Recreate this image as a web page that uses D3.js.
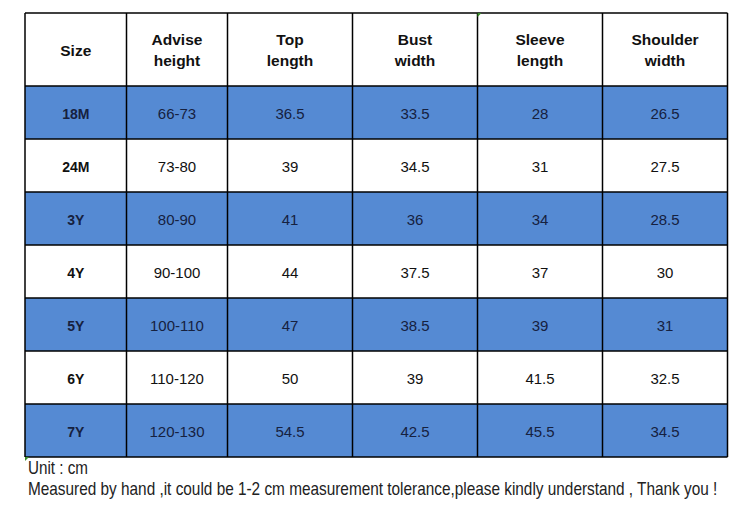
<!DOCTYPE html>
<html><head><meta charset="utf-8">
<script src="https://cdn.jsdelivr.net/npm/d3@7"></script>
<style>html,body{margin:0;padding:0;background:#fff;}svg{display:block;}</style>
</head><body>
<svg id="c" width="750" height="507"></svg>
<script>
const headers = [["Size"],["Advise","height"],["Top","length"],["Bust","width"],["Sleeve","length"],["Shoulder","width"]];
const sizes = ["18M","24M","3Y","4Y","5Y","6Y","7Y"];
const adviseHeight = ["66-73","73-80","80-90","90-100","100-110","110-120","120-130"];
const topLength = [36.5,39,41,44,47,50,54.5];
const bustWidth = [33.5,34.5,36,37.5,38.5,39,42.5];
const sleeveLength = [28,31,34,37,39,41.5,45.5];
const shoulderWidth = [26.5,27.5,28.5,30,31,32.5,34.5];
const notes = ["Unit : cm","Measured by hand ,it could be 1-2 cm measurement tolerance,please kindly understand , Thank you !"];

const svg = d3.select("#c");
const colEdges = [25,126.5,227.5,352.5,477.5,602.5,727.5];
const tableTop = 13, headH = 73, rowH = 53;
const rowY = d3.scaleBand().domain(d3.range(sizes.length)).range([tableTop+headH, tableTop+headH+rowH*sizes.length]);
const cols = [sizes, adviseHeight, topLength, bustWidth, sleeveLength, shoulderWidth];
const FONT = "Arial, 'Liberation Sans', sans-serif";

// row backgrounds
svg.selectAll("rect.row").data(sizes).join("rect")
  .attr("x", colEdges[0]).attr("y",(d,i)=>rowY(i))
  .attr("width", colEdges[6]-colEdges[0]).attr("height", rowY.bandwidth())
  .attr("fill",(d,i)=> i%2===0 ? "#558ad3" : "#ffffff");

// header text
headers.forEach((h,ci)=>{
  const cx=(colEdges[ci]+colEdges[ci+1])/2;
  const t=svg.append("text").attr("x",cx).attr("text-anchor","middle")
    .attr("font-family",FONT).attr("font-weight","bold")
    .attr("font-size",15.5).attr("fill","#111");
  if(h.length===1){ t.attr("y",tableTop+headH/2+6).text(h[0]); }
  else { h.forEach((s,k)=>t.append("tspan").attr("x",cx).attr("y",tableTop+32+k*20.5).text(s)); }
});

// cells
cols.forEach((col,ci)=>{
  const cx=(colEdges[ci]+colEdges[ci+1])/2;
  svg.selectAll("text.c"+ci).data(col).join("text").attr("class","c"+ci)
    .attr("x",cx).attr("y",(d,i)=>rowY(i)+rowY.bandwidth()/2+6.5)
    .attr("text-anchor","middle")
    .attr("font-family",FONT)
    .attr("font-weight", ci===0?"bold":"normal")
    .attr("font-size", ci===0?14:15)
    .attr("fill",(d,i)=> i%2===0 ? "#16213f" : "#111")
    .text(d=>d);
});

// grid lines
const tableBottom = tableTop+headH+rowH*sizes.length;
const hLines=[tableTop, tableTop+headH, ...d3.range(1,sizes.length+1).map(i=>tableTop+headH+rowH*i)];
svg.selectAll("line.h").data(hLines).join("line").attr("class","h")
  .attr("x1",colEdges[0]).attr("x2",colEdges[6]).attr("y1",d=>d).attr("y2",d=>d)
  .attr("stroke","#000").attr("stroke-width",1.5);
svg.selectAll("line.v").data(colEdges).join("line").attr("class","v")
  .attr("x1",d=>d).attr("x2",d=>d).attr("y1",tableTop).attr("y2",tableBottom)
  .attr("stroke","#000").attr("stroke-width",1.5);

// small green corner marks
svg.append("path").attr("d",`M${colEdges[4]},${tableTop} l4,0 l-4,4 z`).attr("fill","#3a8a2a");
svg.append("path").attr("d",`M${colEdges[0]},${tableBottom} l4,0 l-4,4 z`).attr("fill","#3a8a2a");

// notes (horizontally condensed to match the reference widths)
[[notes[0],474,60],[notes[1],495,690]].forEach(([txt,y,w])=>{
  const t = svg.append("text").attr("x",0).attr("y",0).attr("font-family",FONT)
    .attr("font-size",17.5).attr("fill","#222").text(txt);
  const nat = t.node().getComputedTextLength();
  t.attr("transform",`translate(28,${y}) scale(${w/nat},1)`);
});
</script>
</body></html>
